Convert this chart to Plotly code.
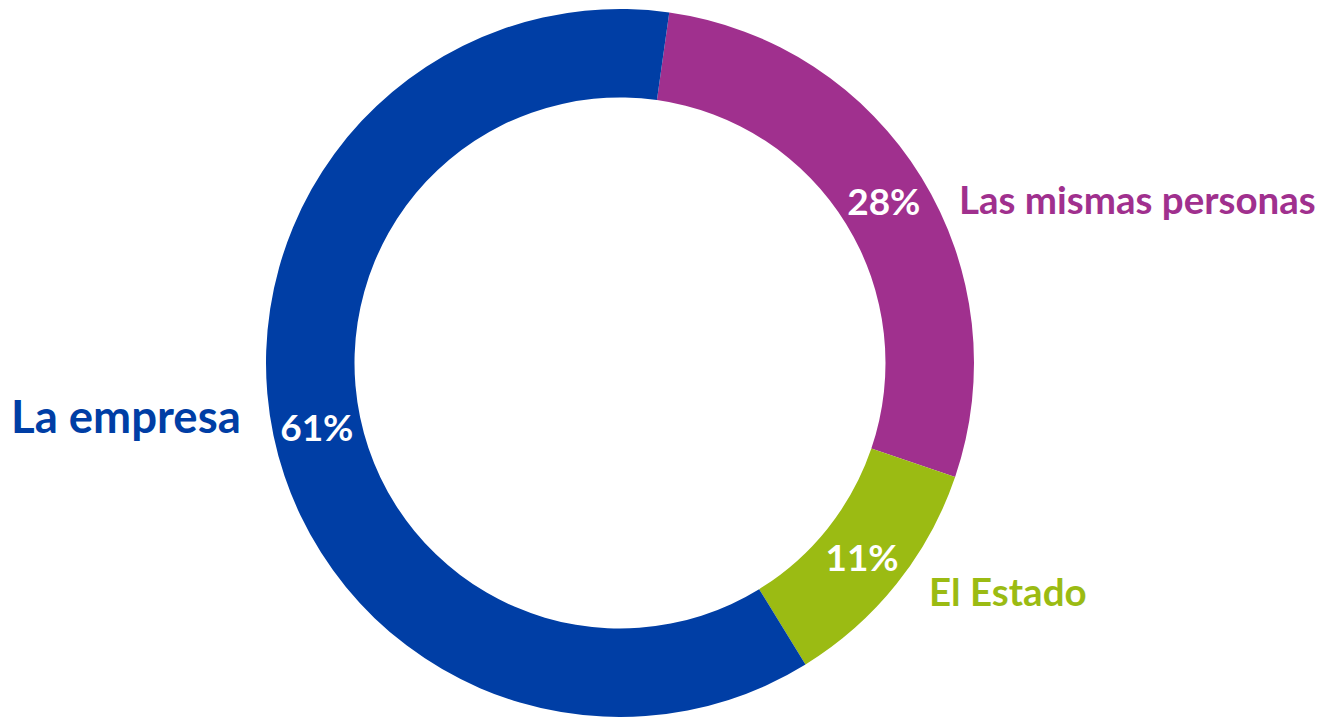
import plotly.graph_objects as go

# who pays / responsibility split
labels = ["Las mismas personas", "El Estado", "La empresa"]
values = [28, 11, 61]
colors = ["#A0308E", "#9BBB13", "#003EA5"]

# the page body has an 8px margin, so the figure is drawn 8px in from the window corner
OFF = 8
W, H = 1337 - OFF, 717 - OFF
TOP = 1
plot_h = H - TOP
cx = 620 - OFF

fig = go.Figure(go.Pie(
    labels=labels,
    values=values,
    sort=False,
    direction="clockwise",
    rotation=8,
    hole=0.75,
    marker=dict(colors=colors, line=dict(width=0)),
    textinfo="percent",
    textposition="inside",
    insidetextorientation="horizontal",
    textfont=dict(family="Lato", size=37, color="white", weight="bold"),
    domain=dict(x=[(cx - plot_h / 2) / W, (cx + plot_h / 2) / W], y=[0, 1]),
    showlegend=False,
    hoverinfo="label+percent",
))


def px_(xpix):
    return (xpix - OFF) / W


def py_(ypix):
    # window row -> paper y
    return (H - (ypix - OFF)) / plot_h


fig.add_annotation(text="La empresa", x=px_(243), y=py_(416), xref="paper", yref="paper",
                   xanchor="right", yanchor="middle", showarrow=False,
                   font=dict(family="Lato", size=45.5, color=colors[2], weight="bold"))
fig.add_annotation(text="Las mismas personas", x=px_(957), y=py_(199), xref="paper", yref="paper",
                   xanchor="left", yanchor="middle", showarrow=False,
                   font=dict(family="Lato", size=38.5, color=colors[0], weight="bold"))
fig.add_annotation(text="El Estado", x=px_(927), y=py_(591), xref="paper", yref="paper",
                   xanchor="left", yanchor="middle", showarrow=False,
                   font=dict(family="Lato", size=38.5, color=colors[1], weight="bold"))

fig.update_layout(
    width=W, height=H,
    margin=dict(l=0, r=0, t=TOP, b=0),
    paper_bgcolor="white",
    plot_bgcolor="white",
    uniformtext=dict(minsize=37, mode="show"),
)

fig.write_html("out.html")
